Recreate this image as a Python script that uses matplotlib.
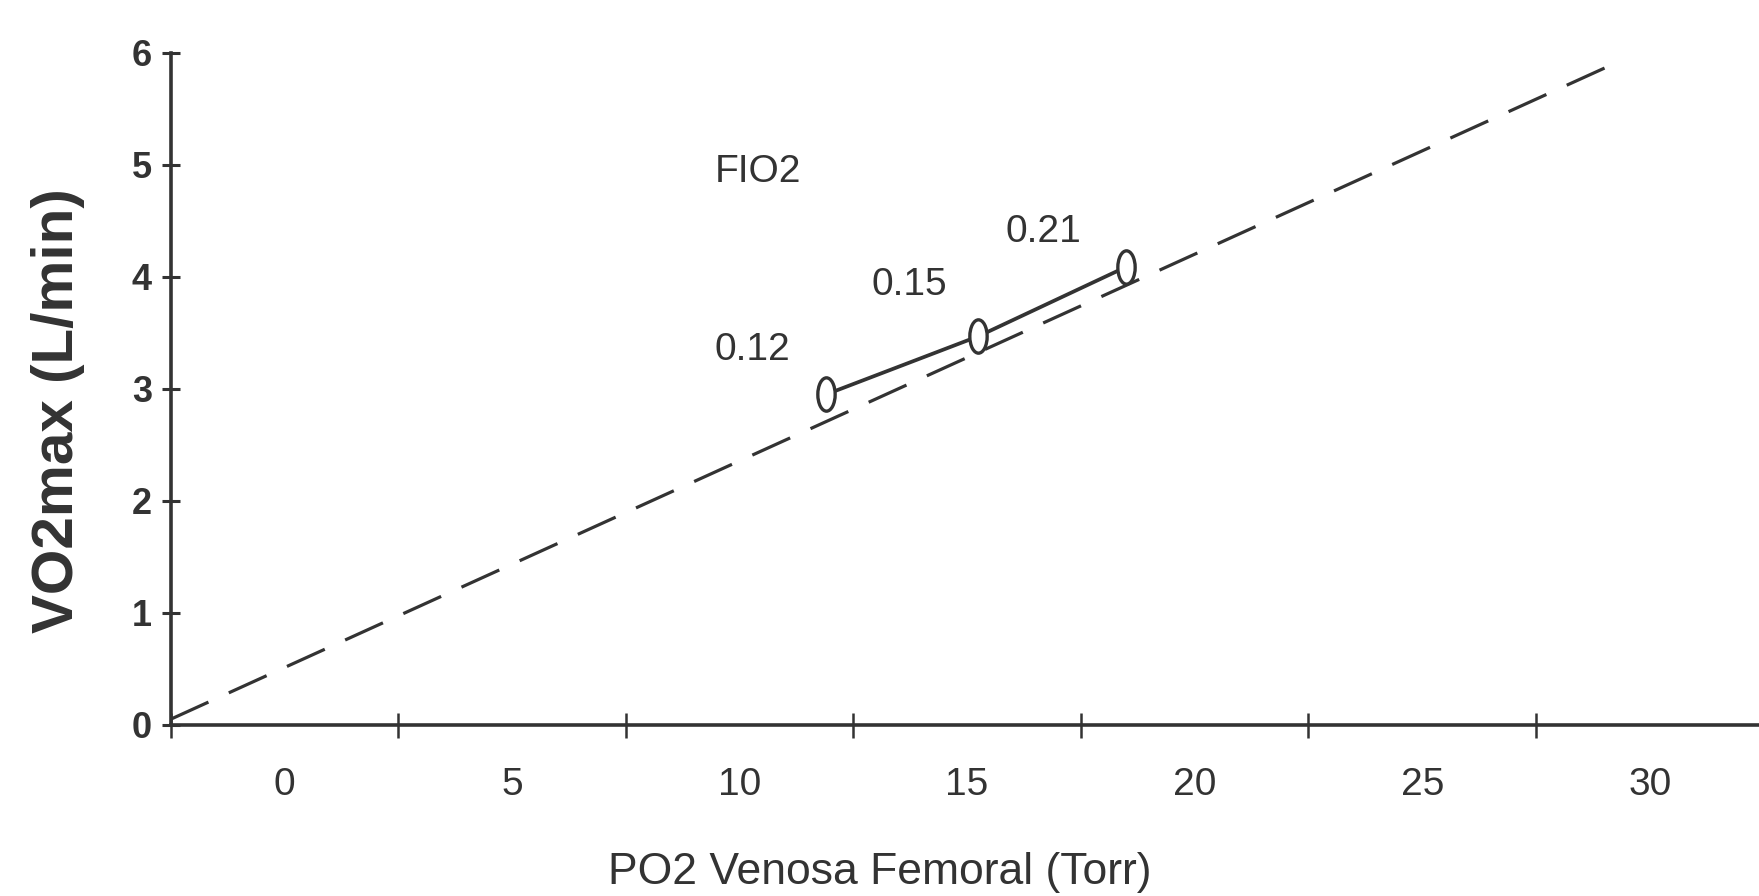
import matplotlib
matplotlib.use("Agg")
import matplotlib.pyplot as plt
from matplotlib.path import Path
from matplotlib.transforms import Affine2D

plt.rcParams['font.family'] = ['Liberation Sans', 'DejaVu Sans']

# datos
po2_fio2 = [11.9, 15.25, 18.5]        # PO2 venosa femoral (Torr)
vo2_fio2 = [2.95, 3.47, 4.09]         # VO2max (L/min)
fio2_etiquetas = ['0.12', '0.15', '0.21']

po2_recta = [-2.5, 29.2]              # recta de referencia (discontinua)
vo2_recta = [0.05, 5.9]

xticks_lab = [0, 5, 10, 15, 20, 25, 30]
xticks_marcas = [-2.5, 2.5, 7.5, 12.5, 17.5, 22.5, 27.5]
yticks = [0, 1, 2, 3, 4, 5, 6]

# posiciones de las etiquetas de FIO2 (en coordenadas de datos)
pos_etiquetas = [(9.45, 3.35), (12.9, 3.93), (15.85, 4.40)]

gris = '#333333'

fig = plt.figure(figsize=(17.59, 8.96), dpi=100)
ax = fig.add_axes([0.097, 0.191, 0.903, 0.750])

ax.plot(po2_recta, vo2_recta, color=gris, lw=2.3, dashes=(13, 7), zorder=2)
ax.plot(po2_fio2, vo2_fio2, color=gris, lw=2.7, zorder=3)

elipse = Path.unit_circle().transformed(Affine2D().scale(0.52, 1.0))
ax.plot(po2_fio2, vo2_fio2, ls='none', marker=elipse, markersize=24,
        markerfacecolor='white', markeredgecolor=gris, markeredgewidth=2.4, zorder=4)

for (x, y), txt in zip(pos_etiquetas, fio2_etiquetas):
    ax.text(x, y, txt, fontsize=28, color=gris, ha='left', va='center')
ax.text(9.45, 4.94, 'FIO2', fontsize=28, color=gris, ha='left', va='center')

ax.set_xlim(-2.5, 32.4)
ax.set_ylim(0, 6)

for s in ['top', 'right']:
    ax.spines[s].set_visible(False)
for s in ['left', 'bottom']:
    ax.spines[s].set_color(gris)
    ax.spines[s].set_linewidth(2.6)

ax.set_yticks(yticks)
ax.tick_params(axis='y', direction='inout', length=13, width=2.2, color=gris,
               labelsize=26, labelcolor=gris, pad=7)
for t in ax.get_yticklabels():
    t.set_fontweight('bold')

ax.set_xticks(xticks_marcas)
ax.set_xticklabels([])
ax.set_xticks(xticks_lab, minor=True)
ax.set_xticklabels([str(v) for v in xticks_lab], minor=True)
ax.tick_params(axis='x', which='major', direction='inout', length=18, width=1.8, color=gris)
ax.tick_params(axis='x', which='minor', length=0, pad=30, labelsize=28, labelcolor=gris)

ax.set_xlabel('PO2 Venosa Femoral (Torr)', fontsize=32, color=gris, va='center')
ax.xaxis.set_label_coords(0.4467, -0.22)
ax.set_ylabel('VO2max (L/min)', fontsize=42, fontweight='bold', color=gris,
              va='center', ha='center')
ax.yaxis.set_label_coords(-0.0708, 0.467)

fig.savefig('out.png', dpi=100)
